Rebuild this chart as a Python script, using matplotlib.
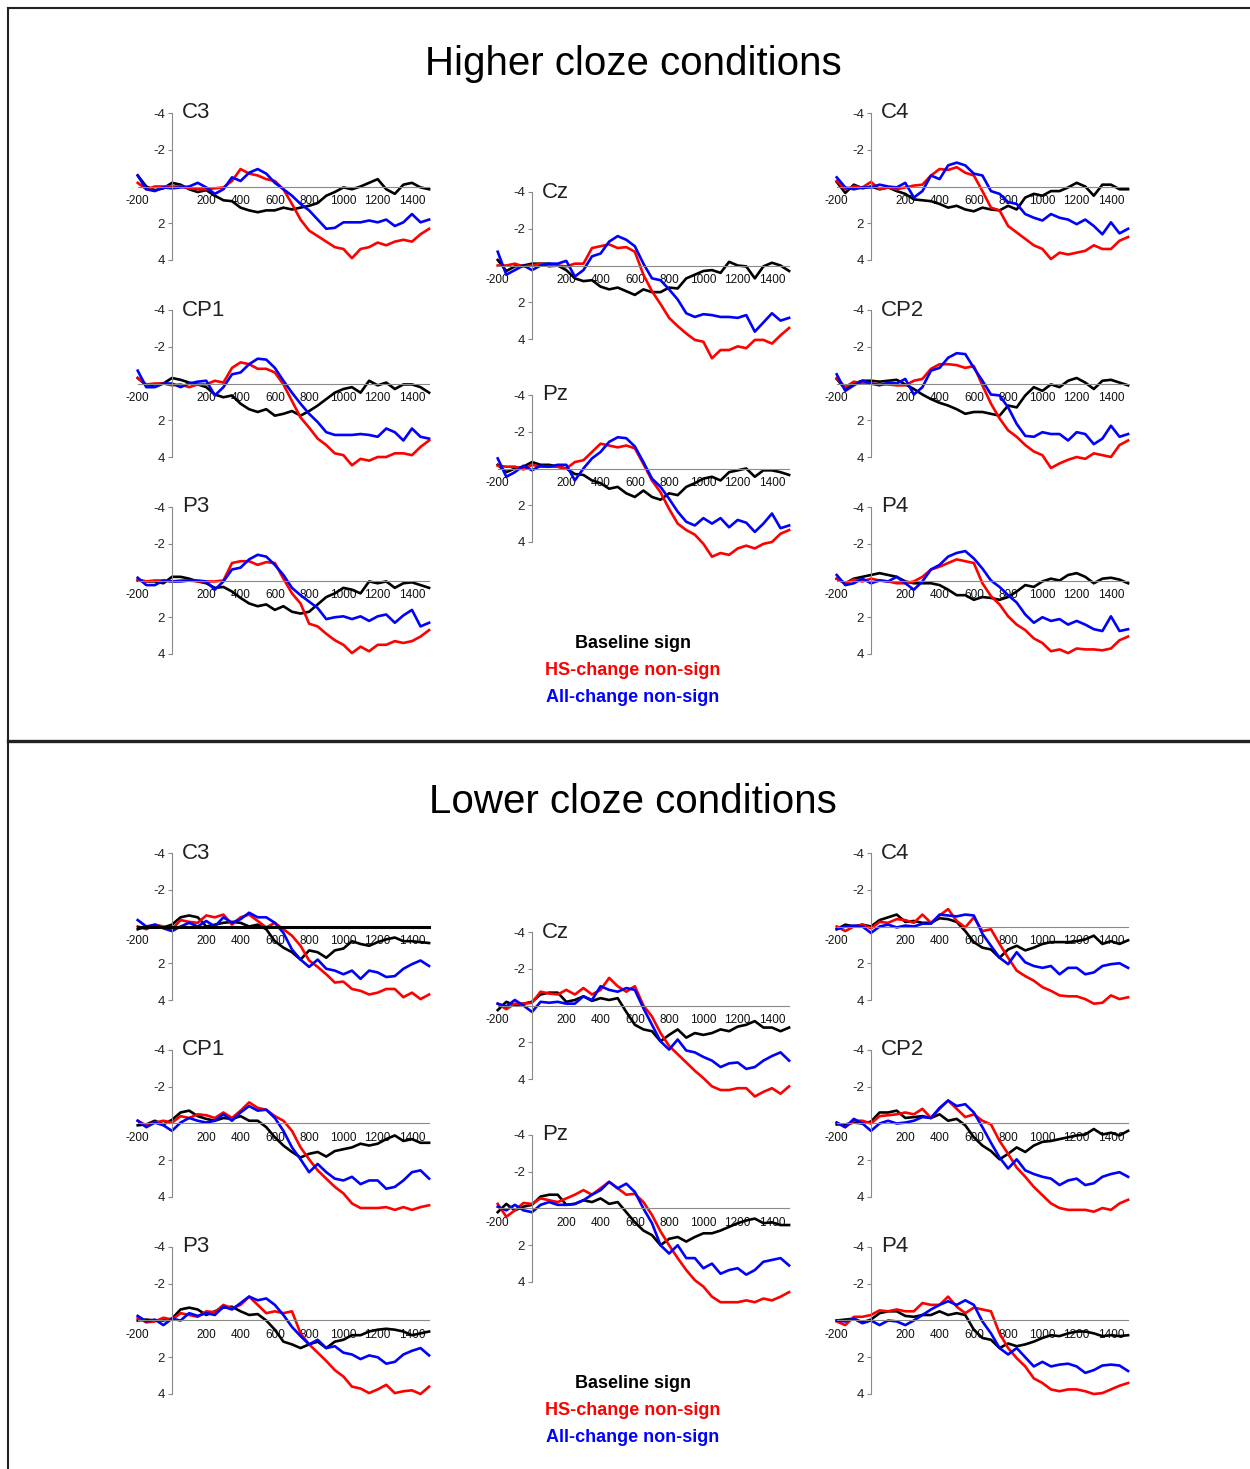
import matplotlib
matplotlib.use("Agg")
import matplotlib.pyplot as plt
from matplotlib.lines import Line2D

plt.rcParams['font.family'] = ['Liberation Sans', 'DejaVu Sans']

W, H = 1250, 1469

# sampling times (ms)
times = [-200, -150, -100, -50,
         0, 50, 100, 150, 200, 250, 300, 350, 400, 450,
         500, 550, 600, 650, 700, 750, 800, 850, 900, 950,
         1000, 1050, 1100, 1150, 1200, 1250, 1300, 1350, 1400, 1450,
         1500]
x_ticks = [-200, 200, 400, 600, 800, 1000, 1200, 1400]
y_ticks = [-4, -2, 2, 4]
conditions = ["Baseline sign", "HS-change non-sign", "All-change non-sign"]
cond_colors = ["black", "#ff0000", "#0000ff"]
panel_titles = ["Higher cloze conditions", "Lower cloze conditions"]

# ---- higher cloze (µV, negative up) ----
hi_C3_base = [-0.6, 0, 0.2, 0.1,
              -0.2, -0.1, 0.15, 0.3, 0.2, 0.5, 0.75, 0.8, 1.15, 1.3,
              1.4, 1.3, 1.3, 1.15, 1.25, 1.15, 1.05, 0.9, 0.5, 0.3,
              0.05, 0.15, 0, -0.2, -0.4, 0.15, 0.4, -0.1, -0.2, 0.05,
              0.15]
hi_C3_hs = [-0.2, 0.15, 0, 0,
            0, 0, 0.1, 0.15, 0.15, 0.1, 0.05, -0.3, -0.95, -0.7,
            -0.6, -0.4, -0.3, 0.15, 0.95, 1.8, 2.4, 2.7, 3.0, 3.3,
            3.4, 3.9, 3.4, 3.3, 3.05, 3.2, 3.0, 2.9, 3.0, 2.6,
            2.3]
hi_C3_all = [-0.6, 0.15, 0.25, 0.05,
             0.1, 0.05, 0, -0.2, 0.05, 0.4, 0.15, -0.5, -0.3, -0.75,
             -0.95, -0.7, -0.2, 0.15, 0.5, 0.95, 1.3, 1.8, 2.3, 2.25,
             1.95, 1.95, 1.95, 1.85, 1.95, 1.8, 2.15, 1.95, 1.5, 1.95,
             1.8]
hi_CP1_base = [-0.3, 0.1, 0.05, 0,
               -0.3, -0.2, -0.05, 0.05, 0.2, 0.6, 0.75, 0.65, 1.1, 1.4,
               1.55, 1.4, 1.75, 1.65, 1.5, 1.75, 1.5, 1.2, 0.85, 0.5,
               0.3, 0.2, 0.5, -0.15, 0.1, -0.05, 0.3, 0.05, 0.05, 0.2,
               0.5]
hi_CP1_hs = [-0.3, 0.05, 0, 0,
             0.1, 0.05, 0.2, 0.05, 0.05, -0.15, -0.05, -0.85, -1.15, -1.05,
             -0.8, -0.8, -0.6, 0.05, 0.95, 1.85, 2.4, 3.0, 3.35, 3.8,
             3.9, 4.45, 4.1, 4.2, 4.0, 4.0, 3.8, 3.8, 3.9, 3.45,
             3.1]
hi_CP1_all = [-0.7, 0.2, 0.2, 0,
              0, 0.2, 0, -0.1, -0.15, 0.65, 0.2, -0.5, -0.6, -1.05,
              -1.35, -1.3, -0.85, -0.15, 0.5, 1.1, 1.65, 2.1, 2.65, 2.8,
              2.8, 2.8, 2.75, 2.8, 2.9, 2.45, 2.65, 3.1, 2.45, 2.9,
              3.0]
hi_P3_base = [0, 0.05, 0.05, 0.15,
              -0.2, -0.2, -0.1, 0.05, 0.15, 0.4, 0.35, 0.6, 0.95, 1.25,
              1.4, 1.3, 1.6, 1.4, 1.7, 1.8, 1.7, 1.3, 0.9, 0.7,
              0.4, 0.5, 0.7, 0.05, 0.15, 0.05, 0.4, 0.15, 0.1, 0.25,
              0.4]
hi_P3_hs = [-0.05, 0.05, 0, 0,
            0.05, 0, 0, 0.05, 0.05, 0.05, 0, -0.95, -1.05, -1.05,
            -0.85, -1.0, -0.95, -0.1, 0.7, 1.25, 2.35, 2.5, 2.9, 3.25,
            3.5, 3.95, 3.6, 3.85, 3.5, 3.5, 3.3, 3.4, 3.3, 3.05,
            2.7]
hi_P3_all = [-0.15, 0.25, 0.25, 0,
             0.05, 0.05, 0, 0, 0.05, 0.5, 0.05, -0.6, -0.7, -1.15,
             -1.4, -1.3, -0.85, -0.3, 0.4, 0.8, 1.15, 1.5, 2.1, 2.0,
             1.95, 2.1, 1.95, 2.2, 1.95, 1.85, 2.3, 1.9, 1.6, 2.5,
             2.3]
hi_Cz_base = [-0.3, 0.3, 0.05, 0,
              -0.1, -0.1, -0.1, 0, 0.25, 0.7, 0.85, 0.8, 1.15, 1.3,
              1.2, 1.4, 1.6, 1.3, 1.45, 1.45, 1.2, 1.25, 0.7, 0.5,
              0.3, 0.25, 0.4, -0.2, 0, 0.05, 0.7, 0.05, -0.15, 0,
              0.3]
hi_Cz_hs = [0, 0, -0.1, 0.05,
            0, -0.1, 0.05, 0, 0.05, -0.1, -0.1, -0.95, -1.05, -1.15,
            -0.95, -1.0, -0.75, 0.5, 1.4, 2.1, 2.85, 3.3, 3.7, 4.05,
            4.15, 5.05, 4.6, 4.6, 4.4, 4.5, 4.05, 4.05, 4.25, 3.8,
            3.4]
hi_Cz_all = [-0.75, 0.5, 0.25, 0,
             0.25, 0, -0.1, -0.1, -0.25, 0.6, 0.25, -0.5, -0.65, -1.3,
             -1.6, -1.4, -1.05, -0.1, 0.7, 0.8, 1.3, 1.85, 2.6, 2.8,
             2.65, 2.7, 2.8, 2.8, 2.85, 2.7, 3.6, 3.1, 2.6, 3.0,
             2.85]
hi_Pz_base = [-0.2, 0.2, 0, -0.1,
              -0.35, -0.2, -0.2, -0.1, 0, 0.3, 0.35, 0.65, 0.8, 1.1,
              1.0, 1.35, 1.55, 1.2, 1.55, 1.7, 1.35, 1.45, 1.0, 0.8,
              0.55, 0.45, 0.65, 0.2, 0.1, 0, 0.45, 0.1, 0.1, 0.2,
              0.35]
hi_Pz_hs = [-0.15, -0.1, -0.1, 0.05,
            -0.2, -0.1, -0.1, -0.1, 0, -0.35, -0.45, -0.9, -1.35, -1.25,
            -1.15, -1.25, -1.1, -0.25, 0.65, 1.3, 2.2, 3.0, 3.35, 3.6,
            4.1, 4.8, 4.6, 4.7, 4.35, 4.2, 4.35, 4.1, 4.0, 3.55,
            3.35]
hi_Pz_all = [-0.55, 0.45, 0.2, -0.15,
             0.1, -0.15, -0.1, -0.2, -0.2, 0.65, 0, -0.55, -0.9, -1.45,
             -1.7, -1.65, -1.2, -0.35, 0.55, 1.0, 1.65, 2.35, 2.9, 3.1,
             2.7, 3.0, 2.7, 3.2, 2.8, 2.95, 3.45, 3.0, 2.45, 3.25,
             3.1]
hi_C4_base = [-0.25, 0.35, -0.1, 0.1,
              0, 0.15, 0.05, 0.25, 0.4, 0.7, 0.75, 0.8, 0.95, 1.15,
              1.05, 1.25, 1.35, 1.15, 1.25, 1.3, 1.05, 1.25, 0.6, 0.4,
              0.5, 0.25, 0.25, 0.05, -0.2, 0, 0.5, -0.1, -0.1, 0.15,
              0.15]
hi_C4_hs = [-0.3, 0.15, 0, 0.05,
            -0.25, 0.15, 0.05, 0.15, 0.05, -0.05, -0.1, -0.6, -0.95, -0.9,
            -1.05, -0.75, -0.6, 0.25, 1.15, 1.3, 2.15, 2.5, 2.85, 3.2,
            3.4, 3.95, 3.6, 3.7, 3.6, 3.5, 3.2, 3.4, 3.4, 2.95,
            2.75]
hi_C4_all = [-0.5, 0.05, 0.15, 0.05,
             0.05, -0.1, 0, 0.05, -0.2, 0.6, 0.25, -0.6, -0.4, -1.15,
             -1.3, -1.15, -0.7, -0.6, 0.25, 0.4, 0.85, 0.95, 1.5, 1.7,
             1.85, 1.5, 1.7, 1.8, 2.05, 1.8, 2.15, 2.6, 1.95, 2.55,
             2.3]
hi_CP2_base = [-0.25, 0.3, 0, -0.15,
               -0.15, -0.1, -0.15, -0.2, 0.05, 0.3, 0.6, 0.85, 1.05, 1.2,
               1.4, 1.65, 1.55, 1.55, 1.65, 1.75, 1.2, 1.3, 0.65, 0.2,
               0.4, 0.05, 0.2, -0.15, -0.3, -0.05, 0.3, -0.15, -0.2, -0.05,
               0.1]
hi_CP2_hs = [-0.3, 0.2, -0.1, 0,
             0, 0.05, 0.05, 0.1, 0.1, -0.15, -0.25, -0.8, -1.05, -1.05,
             -1.0, -0.85, -0.95, 0.1, 1.1, 1.9, 2.55, 2.9, 3.35, 3.7,
             3.9, 4.6, 4.35, 4.15, 4.0, 4.1, 3.8, 3.9, 4.0, 3.35,
             3.1]
hi_CP2_all = [-0.5, 0.4, 0.1, -0.15,
              0, 0.1, -0.05, 0, -0.25, 0.6, 0.2, -0.7, -0.85, -1.4,
              -1.65, -1.6, -0.85, -0.15, 0.6, 0.65, 1.3, 2.2, 2.85, 2.9,
              2.65, 2.75, 2.75, 3.1, 2.65, 2.75, 3.3, 3.0, 2.3, 2.9,
              2.75]
hi_P4_base = [-0.1, 0.15, -0.1, -0.2,
              -0.3, -0.4, -0.3, -0.2, 0.05, 0.15, 0.15, 0.15, 0.25, 0.5,
              0.8, 0.8, 1.05, 0.9, 0.95, 1.05, 0.9, 0.6, 0.25, 0.35,
              0.05, -0.1, 0, -0.3, -0.4, -0.2, 0.15, -0.1, -0.15, -0.05,
              0.15]
hi_P4_hs = [-0.1, 0.15, -0.05, 0.05,
            -0.1, 0, 0.05, 0.15, 0.15, 0.05, -0.2, -0.6, -0.75, -0.95,
            -1.15, -1.05, -0.95, 0.15, 0.85, 1.3, 1.95, 2.4, 2.7, 3.15,
            3.4, 3.85, 3.75, 3.95, 3.7, 3.75, 3.75, 3.8, 3.7, 3.25,
            3.05]
hi_P4_all = [-0.3, 0.25, 0.15, -0.1,
             0.15, 0, 0.05, -0.2, 0.15, 0.5, 0.05, -0.6, -0.85, -1.3,
             -1.5, -1.6, -1.2, -0.65, 0, 0.35, 0.8, 1.2, 1.85, 2.3,
             2.0, 2.2, 2.1, 2.4, 2.2, 2.4, 2.65, 2.75, 1.95, 2.75,
             2.65]

# ---- lower cloze ----
lo_C3_base = [0.15, 0, 0, 0.05,
              -0.1, -0.5, -0.6, -0.5, 0, -0.1, -0.2, -0.25, -0.2, 0,
              -0.1, 0.15, 0.8, 1.15, 1.4, 1.8, 1.3, 1.4, 1.7, 1.3,
              1.2, 0.8, 0.95, 1.05, 0.85, 0.7, 0.6, 0.8, 0.8, 0.85,
              0.9]
lo_C3_hs = [0, 0.15, -0.1, 0,
            0.15, -0.35, -0.25, -0.2, -0.6, -0.5, -0.65, -0.1, -0.5, -0.65,
            -0.3, 0.05, -0.2, 0.15, 0.5, 1.05, 1.85, 2.2, 2.6, 3.05,
            3.0, 3.4, 3.5, 3.7, 3.6, 3.4, 3.4, 3.85, 3.6, 3.95,
            3.7]
lo_C3_all = [-0.35, 0, -0.1, 0.1,
             0.25, 0, -0.2, 0, -0.3, 0, -0.5, -0.2, -0.4, -0.75,
             -0.5, -0.5, -0.2, 0.35, 1.25, 1.8, 2.2, 1.8, 2.3, 2.4,
             2.6, 2.4, 2.85, 2.4, 2.5, 2.75, 2.7, 2.3, 2.05, 1.85,
             2.15]
lo_CP1_base = [0.1, 0.05, -0.15, 0.05,
               -0.2, -0.6, -0.7, -0.4, -0.25, -0.15, -0.3, -0.25, -0.4, -0.15,
               -0.15, 0.2, 0.75, 1.2, 1.55, 1.85, 1.65, 1.55, 1.8, 1.5,
               1.4, 1.3, 1.1, 1.2, 1.1, 0.85, 0.65, 0.95, 0.85, 1.05,
               1.05]
lo_CP1_hs = [-0.15, 0.1, -0.05, -0.15,
             -0.05, -0.4, -0.3, -0.5, -0.45, -0.3, -0.6, -0.3, -0.7, -1.15,
             -0.85, -0.75, -0.4, -0.15, 0.4, 1.3, 1.95, 2.55, 3.0, 3.45,
             3.8, 4.35, 4.6, 4.6, 4.6, 4.55, 4.7, 4.55, 4.7, 4.55,
             4.45]
lo_CP1_all = [-0.15, 0.2, -0.05, 0.1,
              0.4, -0.05, -0.3, -0.15, -0.05, -0.15, -0.5, -0.15, -0.6, -0.95,
              -0.7, -0.75, -0.3, 0.4, 1.3, 1.95, 2.65, 2.2, 2.65, 3.0,
              3.1, 2.9, 3.3, 3.1, 3.1, 3.55, 3.45, 3.1, 2.65, 2.55,
              3.0]
lo_P3_base = [0, -0.05, 0, 0,
              -0.1, -0.6, -0.7, -0.6, -0.3, -0.5, -0.7, -0.75, -0.5, -0.3,
              -0.35, 0, 0.5, 1.15, 1.3, 1.5, 1.3, 1.15, 1.5, 1.15,
              1.05, 0.8, 0.8, 0.6, 0.5, 0.45, 0.5, 0.6, 0.8, 0.7,
              0.6]
lo_P3_hs = [-0.15, 0.1, 0.05, -0.15,
            -0.05, -0.4, -0.3, -0.2, -0.5, -0.45, -0.85, -0.65, -0.85, -1.3,
            -0.85, -0.4, -0.5, -0.4, -0.5, 0.7, 1.3, 1.75, 2.2, 2.7,
            3.05, 3.6, 3.7, 3.95, 3.75, 3.5, 3.95, 3.85, 3.8, 4.0,
            3.6]
lo_P3_all = [-0.25, 0.05, -0.05, 0.25,
             -0.1, 0, -0.4, -0.25, -0.4, -0.3, -0.75, -0.6, -0.95, -1.3,
             -1.1, -1.2, -0.85, -0.3, 0.35, 0.85, 1.3, 1.05, 1.5, 1.4,
             1.75, 1.85, 2.1, 1.9, 2.0, 2.35, 2.25, 1.85, 1.65, 1.5,
             1.9]
lo_Cz_base = [0.25, -0.2, 0, -0.1,
              -0.2, -0.6, -0.7, -0.7, -0.2, -0.3, -0.5, -0.25, -0.4, -0.3,
              -0.4, 0.35, 1.05, 1.3, 1.4, 1.95, 1.6, 1.3, 1.75, 1.5,
              1.6, 1.5, 1.3, 1.4, 1.15, 1.05, 0.85, 1.2, 1.2, 1.4,
              1.2]
lo_Cz_hs = [-0.1, 0.2, -0.1, -0.1,
            -0.15, -0.75, -0.65, -0.6, -0.85, -0.6, -0.95, -0.6, -0.85, -1.5,
            -1.05, -0.75, -1.05, 0, 0.6, 1.5, 2.2, 2.65, 3.1, 3.55,
            3.95, 4.4, 4.6, 4.6, 4.5, 4.5, 4.95, 4.7, 4.5, 4.8,
            4.4]
lo_Cz_all = [-0.1, 0.05, -0.3, 0,
             0.35, -0.2, -0.15, -0.2, -0.1, -0.1, -0.5, -0.3, -1.05, -0.85,
             -0.75, -0.95, -0.85, 0.15, 1.05, 1.95, 2.4, 1.85, 2.45, 2.55,
             2.8, 3.0, 3.35, 3.15, 3.1, 3.45, 3.35, 3.0, 2.75, 2.55,
             3.0]
lo_Pz_base = [0.2, -0.25, 0.1, -0.1,
              -0.2, -0.65, -0.75, -0.75, -0.2, -0.25, -0.45, -0.35, -0.55, -0.25,
              -0.35, 0.2, 0.75, 1.2, 1.45, 2.0, 1.65, 1.55, 1.8, 1.55,
              1.35, 1.35, 1.2, 1.0, 0.8, 0.65, 0.55, 0.8, 0.75, 0.9,
              0.9]
lo_Pz_hs = [-0.25, 0.45, 0.1, -0.3,
            -0.25, -0.55, -0.45, -0.35, -0.55, -0.75, -1.0, -0.75, -1.1, -1.45,
            -1.1, -0.75, -0.8, -0.35, 0.35, 1.25, 2.0, 2.7, 3.35, 3.9,
            4.25, 4.8, 5.1, 5.1, 5.1, 5.0, 5.1, 4.9, 5.0, 4.8,
            4.55]
lo_Pz_all = [-0.1, 0.1, -0.2, 0.1,
             0.2, -0.2, -0.35, -0.2, -0.2, -0.25, -0.45, -0.75, -1.0, -1.45,
             -1.1, -1.35, -0.9, 0, 0.8, 2.0, 2.45, 2.0, 2.7, 2.7,
             3.25, 3.0, 3.55, 3.35, 3.25, 3.6, 3.35, 2.9, 2.8, 2.7,
             3.1]
lo_C4_base = [0.15, -0.1, 0, -0.1,
              0, -0.35, -0.5, -0.65, -0.25, -0.3, -0.2, -0.2, -0.45, -0.4,
              -0.25, 0.25, 0.85, 1.15, 1.25, 1.7, 1.25, 1.05, 1.3, 1.15,
              0.95, 0.85, 0.85, 0.85, 0.8, 0.7, 0.5, 0.95, 0.8, 0.95,
              0.75]
lo_C4_hs = [0, 0.25, 0, -0.1,
            0.1, -0.25, -0.2, -0.4, -0.35, -0.2, -0.65, -0.2, -0.6, -0.95,
            -0.3, 0.05, -0.5, 0.25, 0.15, 0.95, 1.7, 2.4, 2.7, 2.95,
            3.3, 3.5, 3.75, 3.8, 3.8, 3.95, 4.2, 4.15, 3.75, 3.95,
            3.85]
lo_C4_all = [0.15, 0, -0.05, 0,
             0.35, 0, -0.1, 0.05, -0.05, 0, -0.15, -0.15, -0.65, -0.6,
             -0.55, -0.65, -0.6, 0.4, 1.05, 1.7, 2.05, 1.4, 1.95, 2.15,
             2.25, 2.15, 2.6, 2.25, 2.25, 2.6, 2.5, 2.15, 2.05, 2.0,
             2.25]
lo_CP2_base = [0.05, 0.05, -0.05, 0,
               -0.1, -0.6, -0.6, -0.7, -0.3, -0.35, -0.4, -0.3, -0.5, -0.15,
               -0.25, 0.1, 0.75, 1.2, 1.5, 1.95, 1.65, 1.3, 1.55, 1.2,
               1.0, 0.95, 0.85, 0.75, 0.65, 0.6, 0.3, 0.6, 0.5, 0.65,
               0.4]
lo_CP2_hs = [-0.05, 0.2, -0.15, -0.15,
             0, -0.4, -0.45, -0.5, -0.6, -0.5, -0.8, -0.3, -0.8, -1.25,
             -0.8, -0.35, -0.5, -0.15, 0.05, 0.95, 1.65, 2.4, 2.9, 3.45,
             3.9, 4.35, 4.6, 4.7, 4.7, 4.7, 4.8, 4.6, 4.7, 4.35,
             4.15]
lo_CP2_all = [-0.05, 0.2, -0.25, 0,
              0.4, 0, -0.15, 0, -0.05, -0.15, -0.35, -0.3, -0.85, -1.25,
              -0.95, -1.05, -0.6, 0.2, 1.05, 1.85, 2.45, 1.95, 2.55, 2.75,
              2.9, 3.0, 3.35, 3.1, 3.0, 3.35, 3.25, 2.9, 2.75, 2.65,
              2.9]
lo_P4_base = [0, -0.05, -0.1, 0.1,
              -0.05, -0.4, -0.5, -0.5, -0.25, -0.2, -0.3, -0.3, -0.5, -0.3,
              -0.4, -0.3, 0.5, 0.95, 1.05, 1.5, 1.25, 1.4, 1.3, 1.15,
              0.95, 0.8, 0.85, 0.7, 0.6, 0.6, 0.7, 0.85, 0.8, 0.85,
              0.8]
lo_P4_hs = [0.05, 0.25, -0.2, -0.2,
            -0.3, -0.55, -0.5, -0.6, -0.5, -0.5, -0.95, -0.85, -0.85, -1.3,
            -0.75, -0.4, -0.7, -0.6, -0.5, 0.7, 1.5, 2.05, 2.5, 3.15,
            3.4, 3.75, 3.85, 3.75, 3.75, 3.85, 4.0, 3.95, 3.75, 3.55,
            3.4]
lo_P4_all = [0, 0.05, -0.1, 0.15,
             0, 0.25, 0, 0.05, 0.25, 0, -0.3, -0.6, -0.85, -1.05,
             -0.85, -1.1, -0.85, 0.05, 0.7, 1.5, 1.85, 1.5, 2.0, 2.5,
             2.25, 2.5, 2.4, 2.35, 2.5, 2.85, 2.7, 2.45, 2.4, 2.45,
             2.75]

higher = {
    "C3": (hi_C3_base, hi_C3_hs, hi_C3_all),
    "CP1": (hi_CP1_base, hi_CP1_hs, hi_CP1_all),
    "P3": (hi_P3_base, hi_P3_hs, hi_P3_all),
    "Cz": (hi_Cz_base, hi_Cz_hs, hi_Cz_all),
    "Pz": (hi_Pz_base, hi_Pz_hs, hi_Pz_all),
    "C4": (hi_C4_base, hi_C4_hs, hi_C4_all),
    "CP2": (hi_CP2_base, hi_CP2_hs, hi_CP2_all),
    "P4": (hi_P4_base, hi_P4_hs, hi_P4_all),
}
lower = {
    "C3": (lo_C3_base, lo_C3_hs, lo_C3_all),
    "CP1": (lo_CP1_base, lo_CP1_hs, lo_CP1_all),
    "P3": (lo_P3_base, lo_P3_hs, lo_P3_all),
    "Cz": (lo_Cz_base, lo_Cz_hs, lo_Cz_all),
    "Pz": (lo_Pz_base, lo_Pz_hs, lo_Pz_all),
    "C4": (lo_C4_base, lo_C4_hs, lo_C4_all),
    "CP2": (lo_CP2_base, lo_CP2_hs, lo_CP2_all),
    "P4": (lo_P4_base, lo_P4_hs, lo_P4_all),
}

# layout in pixels: (x of the t=0 axis, y of the -4 tick) inside the top panel
site_pos = {
    "C3": (172, 113), "CP1": (172, 310), "P3": (172, 507),
    "Cz": (532, 192), "Pz": (532, 395),
    "C4": (871, 113), "CP2": (871, 310), "P4": (871, 507),
}
PANEL_SHIFT = 740
PX_MS = 0.1714
PX_UV = 18.375
XLIM = (-215, 1515)
YLIM = (5.8, -4.6)


def fx(px):
    return px / W


def fy(py):
    return 1 - py / H


def erp_axes(fig, x0, ym4, thick_zero=False):
    left = x0 + XLIM[0] * PX_MS
    width = (XLIM[1] - XLIM[0]) * PX_MS
    top = ym4 - (-4 - YLIM[1]) * PX_UV
    height = (YLIM[0] - YLIM[1]) * PX_UV
    ax = fig.add_axes([fx(left), fy(top + height), width / W, height / H])
    ax.set_xlim(XLIM)
    ax.set_ylim(YLIM)
    ax.patch.set_visible(False)
    for s in ["top", "right"]:
        ax.spines[s].set_visible(False)
    ax.spines["left"].set_position(("data", 0))
    ax.spines["left"].set_bounds(-4, 4)
    ax.spines["left"].set_color("#8a8a8a")
    ax.spines["left"].set_linewidth(0.8)
    ax.spines["bottom"].set_position(("data", 0))
    ax.spines["bottom"].set_bounds(-200, 1500)
    if thick_zero:
        ax.spines["bottom"].set_color("black")
        ax.spines["bottom"].set_linewidth(2.2)
    else:
        ax.spines["bottom"].set_color("#8a8a8a")
        ax.spines["bottom"].set_linewidth(0.8)
    ax.set_xticks(x_ticks)
    ax.set_xticklabels([str(t) for t in x_ticks])
    ax.set_yticks(y_ticks)
    ax.set_yticklabels([str(v) for v in y_ticks])
    ax.tick_params(axis="x", length=0, pad=6, labelsize=8.5, labelcolor="#111111")
    ax.tick_params(axis="y", length=3, width=0.8, color="#8a8a8a", pad=2,
                   labelsize=9.5, labelcolor="#222222")
    return ax


fig = plt.figure(figsize=(W / 100, H / 100), dpi=100)

for p, (data, title) in enumerate(zip([higher, lower], panel_titles)):
    dy = p * PANEL_SHIFT
    fig.text(fx(633), fy(75 + dy - 2 * p), title, ha="center", va="baseline",
             fontsize=29, color="black")
    for site, (x0, ym4) in site_pos.items():
        ax = erp_axes(fig, x0, ym4 + dy, thick_zero=(p == 1 and site == "C3"))
        for series, color in zip(data[site], cond_colors):
            ax.plot(times, series, color=color, lw=1.9, clip_on=False,
                    solid_joinstyle="round")
        ax.text(58, -4, site, ha="left", va="center", fontsize=16,
                color="#222222")
    for i, (label, color) in enumerate(zip(conditions, cond_colors)):
        fig.text(fx(633), fy(644 + 26.5 * i + dy), label, ha="center",
                 va="center", fontsize=13, fontweight="bold", color=color)

# panel frames
fig.add_artist(Line2D([fx(8), 1], [fy(8), fy(8)], color="#222222", lw=1.5))
fig.add_artist(Line2D([fx(8), fx(8)], [fy(8), 0], color="#222222", lw=1.5))
fig.add_artist(Line2D([fx(8), 1], [fy(741), fy(741)], color="#222222", lw=2.4))

fig.savefig("out.png", dpi=100)
